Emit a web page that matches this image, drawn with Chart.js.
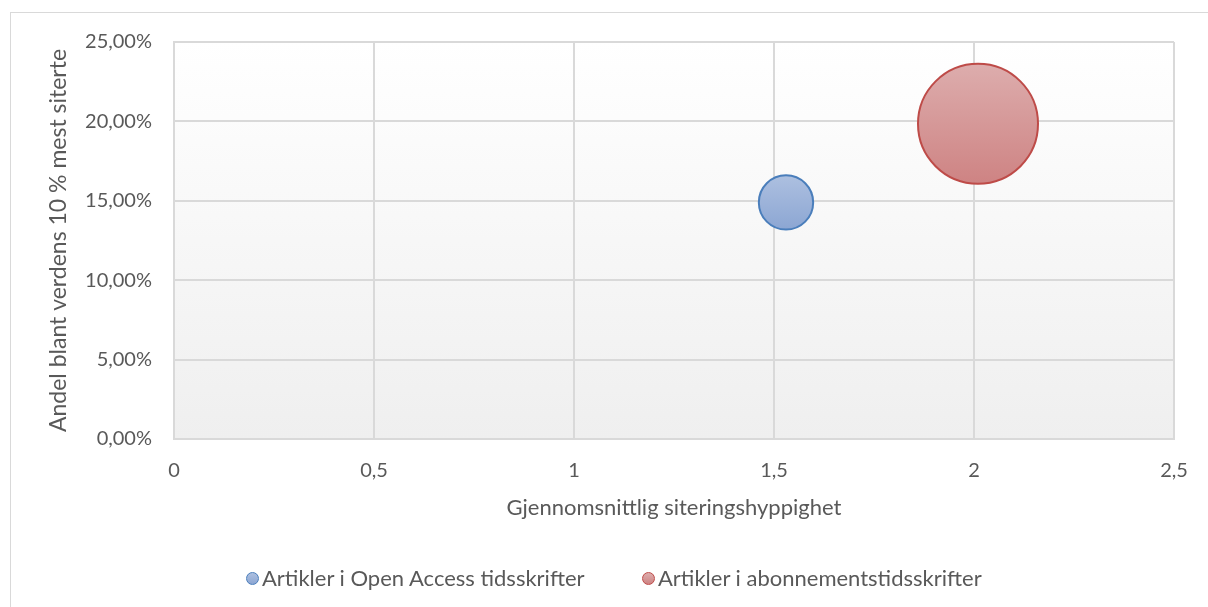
<!DOCTYPE html>
<html lang="no">
<head>
<meta charset="utf-8">
<title>Siteringshyppighet</title>
<script src="https://cdn.jsdelivr.net/npm/chart.js@4/dist/chart.umd.min.js"></script>
<style>
  html, body { margin: 0; padding: 0; background: #fff; }
  #wrap { position: relative; width: 1208px; height: 607px; overflow: hidden; font-family: Lato, "Open Sans", sans-serif; }
  #frame { position: absolute; left: 10px; top: 12px; width: 1210px; height: 610px; border: 1px solid #d9d9d9; box-sizing: border-box; }
  #chart { position: absolute; left: 0; top: 0; }
  .legend-item { position: absolute; top: 565px; display: flex; align-items: center; color: #595959; font-size: 22px; line-height: 26px; white-space: nowrap; }
  .legend-item .dot { width: 13px; height: 13px; border-radius: 50%; box-sizing: border-box; margin-right: 3px; }
</style>
</head>
<body>
<div id="wrap">
  <div id="frame"></div>
  <canvas id="chart" width="1208" height="607"></canvas>
  <div id="legend"></div>
</div>
<script>
  // Data
  const seriesNames = ["Artikler i Open Access tidsskrifter", "Artikler i abonnementstidsskrifter"];
  const citationRate = [1.53, 2.01];        // Gjennomsnittlig siteringshyppighet
  const topTenShare = [0.149, 0.1985];      // Andel blant verdens 10 % mest siterte
  const bubbleSize = [20.5, 100];           // relative bubble size (area)

  const xTicks = [0, 0.5, 1, 1.5, 2, 2.5];
  const xTickLabels = ["0", "0,5", "1", "1,5", "2", "2,5"];
  const yTicks = [0, 0.05, 0.1, 0.15, 0.2, 0.25];
  const yTickLabels = ["0,00%", "5,00%", "10,00%", "15,00%", "20,00%", "25,00%"];

  const xTitle = "Gjennomsnittlig siteringshyppighet";
  const yTitle = "Andel blant verdens 10 % mest siterte";

  // Farger (topp, bunn, kant)
  const palette = [
    { top: "#adc0e0", bottom: "#8ca6d3", border: "#4a7ebb" },
    { top: "#ddadad", bottom: "#ce8383", border: "#be4b48" },
  ];

  const maxRadius = 60;
  const textColor = "#595959";
  const gridColor = "#d9d9d9";
  const fontFamily = "Lato";

  const bubbleGradient = (ctx, i) => {
    const chart = ctx.chart;
    const raw = ctx.raw;
    const y = chart.scales.y ? chart.scales.y.getPixelForValue(raw.y) : 0;
    if (!isFinite(y)) return palette[i].bottom;
    const g = chart.ctx.createLinearGradient(0, y - raw.r, 0, y + raw.r);
    g.addColorStop(0, palette[i].top);
    g.addColorStop(1, palette[i].bottom);
    return g;
  };

  const datasets = seriesNames.map((name, i) => ({
    label: name,
    data: [{ x: citationRate[i], y: topTenShare[i], r: maxRadius * Math.sqrt(bubbleSize[i] / Math.max(...bubbleSize)) }],
    backgroundColor: (ctx) => bubbleGradient(ctx, i),
    borderColor: palette[i].border,
    borderWidth: 2,
    hoverBorderWidth: 2,
  }));

  // Bakgrunn i plottområdet med gradient
  const plotBackground = {
    id: "plotBackground",
    beforeDraw(chart) {
      const { ctx, chartArea: a } = chart;
      const g = ctx.createLinearGradient(0, a.top, 0, a.bottom);
      g.addColorStop(0, "#ffffff");
      g.addColorStop(1, "#efefef");
      ctx.save();
      ctx.fillStyle = g;
      ctx.fillRect(a.left, a.top, a.right - a.left, a.bottom - a.top);
      ctx.restore();
    },
  };

  new Chart(document.getElementById("chart"), {
    type: "bubble",
    data: { datasets },
    plugins: [plotBackground],
    options: {
      responsive: false,
      animation: false,
      clip: false,
      layout: { autoPadding: false, padding: { left: 0, top: 42, right: 34, bottom: 48 } },
      plugins: {
        legend: { display: false },
        tooltip: { enabled: false },
      },
      scales: {
        x: {
          type: "linear",
          min: 0,
          max: 2.5,
          afterBuildTicks: (s) => { s.ticks = xTicks.map((v) => ({ value: v })); },
          afterFit: (s) => { s.height = 120; },
          grid: { color: gridColor, lineWidth: 2, drawTicks: false },
          border: { color: gridColor, width: 2 },
          ticks: {
            padding: 20,
            color: textColor,
            font: { family: fontFamily, size: 20 },
            callback: (v, i) => xTickLabels[i],
          },
          title: {
            display: true,
            text: xTitle,
            color: textColor,
            font: { family: fontFamily, size: 22 },
            padding: { top: 0, bottom: 38 },
          },
        },
        y: {
          type: "linear",
          min: 0,
          max: 0.25,
          afterBuildTicks: (s) => { s.ticks = yTicks.map((v) => ({ value: v })); },
          afterFit: (s) => { s.width = 174; },
          grid: { color: gridColor, lineWidth: 2, drawTicks: false },
          border: { color: gridColor, width: 2 },
          ticks: {
            padding: 22,
            color: textColor,
            font: { family: fontFamily, size: 20 },
            callback: (v, i) => yTickLabels[i],
          },
          title: {
            display: true,
            text: yTitle,
            color: textColor,
            font: { family: fontFamily, size: 23 },
            padding: { top: 45, bottom: 0 },
          },
        },
      },
    },
  });

  // Forklaring (HTML) bygget fra datasettene
  const legendLeft = [246, 642];
  const legend = document.getElementById("legend");
  seriesNames.forEach((name, i) => {
    const item = document.createElement("div");
    item.className = "legend-item";
    item.style.left = legendLeft[i] + "px";
    const dot = document.createElement("span");
    dot.className = "dot";
    dot.style.background = `linear-gradient(${palette[i].top}, ${palette[i].bottom})`;
    dot.style.border = `1.5px solid ${palette[i].border}`;
    const label = document.createElement("span");
    label.textContent = name;
    item.appendChild(dot);
    item.appendChild(label);
    legend.appendChild(item);
  });
</script>
</body>
</html>
